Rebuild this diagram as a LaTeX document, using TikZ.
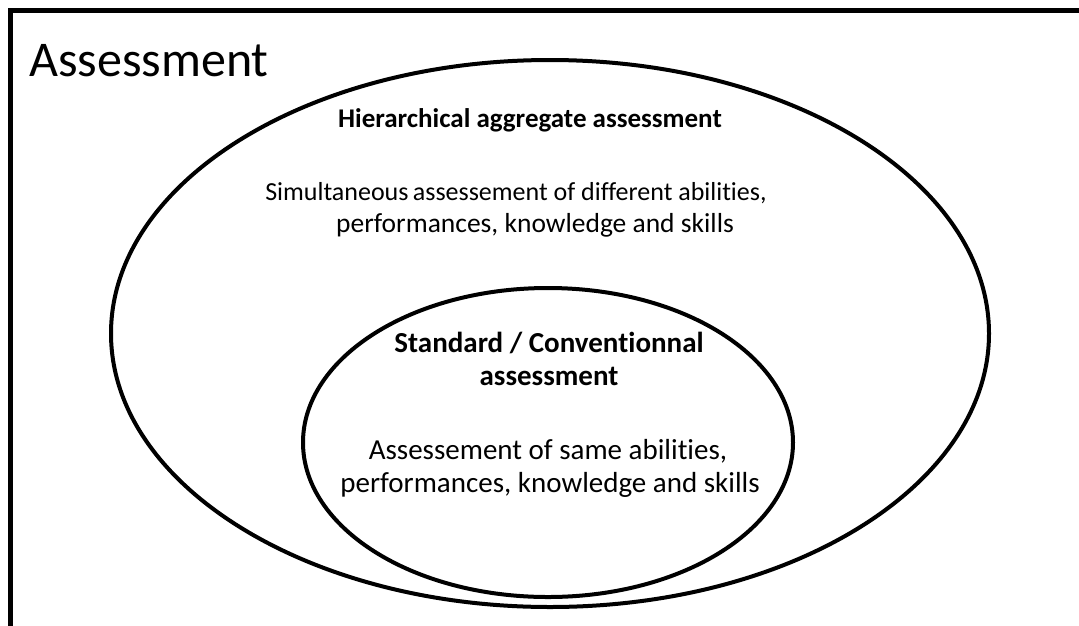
\documentclass[tikz,border=0pt]{standalone}
\usepackage{fontspec}
\setmainfont[Ligatures=NoCommon]{Carlito}
\usetikzlibrary{shapes.geometric}
\begin{document}
\begin{tikzpicture}[x=1pt,y=-1pt,
  ring/.style={draw=black,line width=4pt,ellipse,inner sep=0pt},
  head/.style={font=\fontsize{27}{30}\selectfont\bfseries,anchor=base,inner sep=0pt},
  body/.style={font=\fontsize{27.5}{32}\selectfont,anchor=base,inner sep=0pt},
  ihead/.style={font=\fontsize{29}{30}\selectfont\bfseries,anchor=base,inner sep=0pt},
  ibody/.style={font=\fontsize{29}{32}\selectfont,anchor=base,inner sep=0pt}]
\useasboundingbox (0,0) rectangle (1079,625);
\begin{scope}
\clip (0,0) rectangle (1079,625);
\coordinate (fa) at (1100,10.5);
\coordinate (fb) at (10.5,10.5);
\coordinate (fc) at (10.5,650);
\draw[line width=5pt] (fa) -- (fb) -- (fc);
\end{scope}
\node[anchor=base west,inner sep=0pt,font=\fontsize{50}{60}\selectfont] (title) at (29,76) {Assessment};
\node[ring,minimum width=878pt,minimum height=547pt] (outer) at (550,333.5) {};
\node[ring,minimum width=490pt,minimum height=309pt] (inner) at (548,442.5) {};
\node[head] (h1) at (530,127) {Hierarchical aggregate assessment};
\node[body,font=\fontsize{26}{32}\selectfont] (b1) at (516,200) {Simultaneous\hspace{-1.5pt} assessement of different abilities,};
\node[body] (b2) at (535,232) {performances, knowledge and skills};
\node[ihead] (h2) at (549,352) {Standard / Conventionnal};
\node[ihead] (h3) at (549,385) {assessment};
\node[ibody] (b3) at (548,459) {Assessement of same abilities,};
\node[ibody] (b4) at (550,492) {performances, knowledge and skills};
\end{tikzpicture}
\end{document}
